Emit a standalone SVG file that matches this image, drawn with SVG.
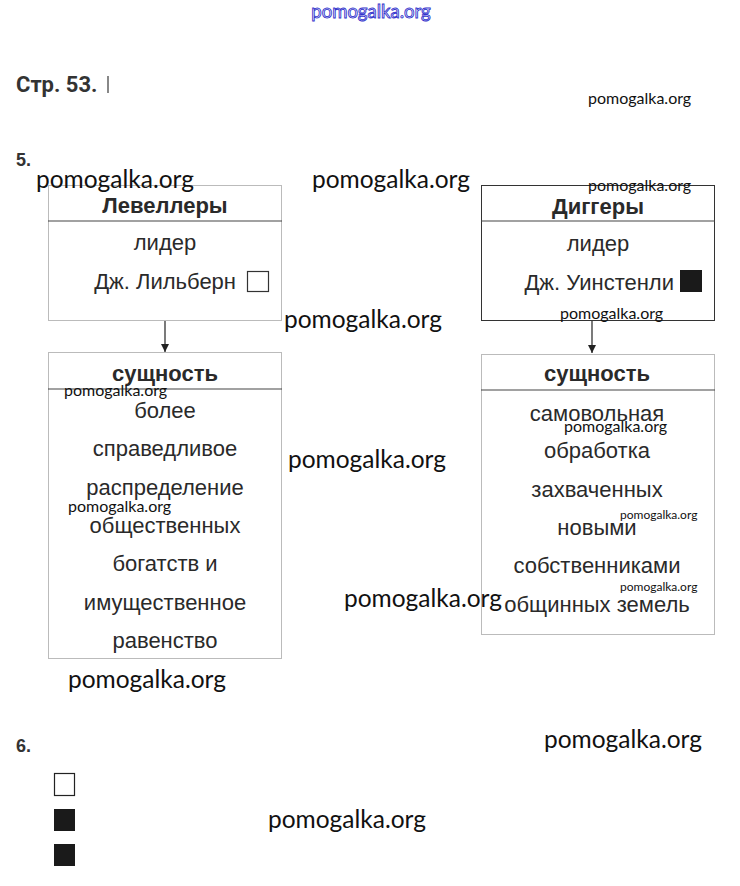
<svg xmlns="http://www.w3.org/2000/svg" width="740" height="886" viewBox="0 0 740 886">
<style>
.wm{font-family:Lato,"Open Sans",sans-serif;fill:#111;}
.big{font-size:24.5px;}
.sm{font-size:16px;}
.xs{font-size:12px;}
.b{font-family:"Liberation Sans",Arial,sans-serif;font-size:22px;fill:#2a2a2a;text-anchor:middle;}
.e{text-anchor:end;}
.h{font-family:"Liberation Sans",Arial,sans-serif;font-size:22px;font-weight:bold;fill:#2a2a2a;text-anchor:middle;}
.num{font-family:"Liberation Sans",Arial,sans-serif;font-size:18px;font-weight:bold;fill:#333;}
.box{fill:#fff;stroke:#bbb;stroke-width:1;}
.boxd{fill:#fff;stroke:#333;stroke-width:1;}
.sep{stroke:#444;stroke-width:1.2;}
.conn{stroke:#222;stroke-width:1.2;fill:none;marker-end:url(#ah);}
</style>
<defs>
<marker id="ah" viewBox="0 0 10 10" refX="10" refY="5" markerWidth="8" markerHeight="9" markerUnits="userSpaceOnUse" orient="auto">
<path d="M0,0 L10,5 L0,10 z" fill="#222"/>
</marker>
</defs>
<rect width="740" height="886" fill="#fff"/>
<text x="371" y="18" text-anchor="middle" font-family="Lato,sans-serif" font-size="18.5" fill="#fff" stroke="#3333cc" stroke-width="0.9">pomogalka.org</text>
<text x="16" y="92" font-family="Roboto,'Liberation Sans',sans-serif" font-size="22" font-weight="bold" fill="#333">Стр. 53.</text>
<rect x="107" y="76" width="2" height="17" fill="#888"/>
<text class="wm sm" x="588" y="104">pomogalka.org</text>
<text class="num" x="16" y="166">5.</text>

<g id="levellers">
<rect class="box" x="48.5" y="185.5" width="233" height="135"/>
<line class="sep" x1="48" y1="221" x2="282" y2="221"/>
<text class="h" x="165" y="213">Левеллеры</text>
<text class="b" x="165" y="250">лидер</text>
<text class="b e" x="236" y="289">Дж. Лильберн</text>
<rect x="247.5" y="271.5" width="21" height="20" fill="#fff" stroke="#333" stroke-width="1.2"/>
</g>

<g id="diggers">
<rect class="boxd" x="481.5" y="185.5" width="233" height="135"/>
<line class="sep" x1="481" y1="221" x2="715" y2="221"/>
<text class="h" x="598" y="214">Диггеры</text>
<text class="b" x="598" y="251">лидер</text>
<text class="b e" x="674" y="290">Дж. Уинстенли</text>
<rect x="680" y="270" width="22" height="22" fill="#1a1a1a"/>
</g>

<g id="levellers-essence">
<rect class="box" x="48.5" y="352.5" width="233" height="306"/>
<line class="sep" x1="48" y1="389" x2="282" y2="389"/>
<text class="h" x="165" y="381">сущность</text>
<text class="b" x="165" y="418">более</text>
<text class="b" x="165" y="456">справедливое</text>
<text class="b" x="165" y="495">распределение</text>
<text class="b" x="165" y="533">общественных</text>
<text class="b" x="165" y="571">богатств и</text>
<text class="b" x="165" y="610">имущественное</text>
<text class="b" x="165" y="648">равенство</text>
</g>

<g id="diggers-essence">
<rect class="box" x="481.5" y="354.5" width="233" height="280"/>
<line class="sep" x1="481" y1="390" x2="715" y2="390"/>
<text class="h" x="597" y="381">сущность</text>
<text class="b" x="597" y="421">самовольная</text>
<text class="b" x="597" y="458">обработка</text>
<text class="b" x="597" y="497">захваченных</text>
<text class="b" x="597" y="535">новыми</text>
<text class="b" x="597" y="573">собственниками</text>
<text class="b" x="597" y="612">общинных земель</text>
</g>

<g id="connectors">
<line class="conn" x1="165" y1="321" x2="165" y2="352"/>
<line class="conn" x1="592" y1="321" x2="592" y2="353"/>
</g>

<text class="wm big" x="36" y="188">pomogalka.org</text>
<text class="wm big" x="312" y="188">pomogalka.org</text>
<text class="wm sm" x="588" y="191">pomogalka.org</text>
<text class="wm sm" x="560" y="319">pomogalka.org</text>
<text class="wm big" x="284" y="328">pomogalka.org</text>
<text class="wm sm" x="64" y="396">pomogalka.org</text>
<text class="wm sm" x="68" y="512">pomogalka.org</text>
<text class="wm big" x="288" y="468">pomogalka.org</text>
<text class="wm sm" x="564" y="432">pomogalka.org</text>
<text class="wm xs" x="620" y="519">pomogalka.org</text>
<text class="wm xs" x="620" y="591">pomogalka.org</text>
<text class="wm big" x="344" y="607">pomogalka.org</text>
<text class="wm big" x="68" y="688">pomogalka.org</text>

<text class="num" x="16" y="752">6.</text>
<text class="wm big" x="544" y="748">pomogalka.org</text>
<rect x="54.5" y="773.5" width="20" height="22" fill="#fff" stroke="#222" stroke-width="1.2"/>
<rect x="54" y="809" width="21" height="22" fill="#1a1a1a"/>
<rect x="54" y="844" width="21" height="22" fill="#1a1a1a"/>
<text class="wm big" x="268" y="828">pomogalka.org</text>
</svg>
